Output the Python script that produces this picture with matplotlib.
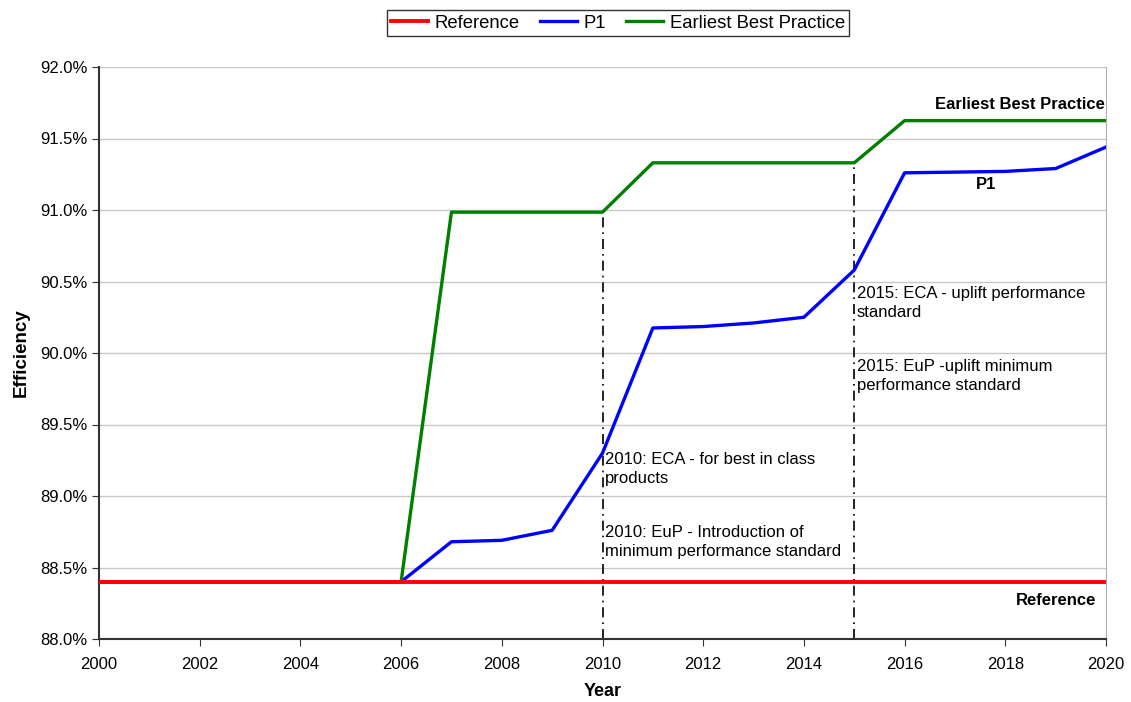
import numpy as np
import matplotlib
matplotlib.use("Agg")
import matplotlib.pyplot as plt
from matplotlib.ticker import FuncFormatter, MultipleLocator

plt.rcParams['font.family'] = ['Liberation Sans', 'DejaVu Sans']

years = np.arange(2000, 2021)
reference = [88.40] * 21
p1 = [88.40] * 7 + [88.68, 88.69, 88.76, 89.30, 90.175, 90.185, 90.21, 90.25,
                    90.58, 91.26, 91.265, 91.27, 91.29, 91.44]
best = [88.40] * 7 + [90.985, 90.985, 90.985, 90.985, 91.33, 91.33, 91.33, 91.33,
                      91.33, 91.625, 91.625, 91.625, 91.625, 91.625]

events = [2010, 2015]
notes = [(2010, 89.31, "2010: ECA - for best in class\nproducts"),
         (2010, 88.80, "2010: EuP - Introduction of\nminimum performance standard"),
         (2015, 90.47, "2015: ECA - uplift performance\nstandard"),
         (2015, 89.96, "2015: EuP -uplift minimum\nperformance standard")]

fig = plt.figure(figsize=(11.31, 7.02), dpi=100)
ax = fig.add_axes([99 / 1131, 1 - 639 / 702, (1106 - 99) / 1131, (639 - 67) / 702])

ax.plot(years, p1, color='#0000ff', lw=2.4, label='P1', zorder=3)
ax.plot(years, best, color='#008000', lw=2.4, label='Earliest Best Practice', zorder=3)
ax.plot(years, reference, color='#ff0000', lw=2.8, label='Reference', zorder=4)

# dash-dot event markers from the best-practice line down to the axis
for yr in events:
    top = best[list(years).index(yr)]
    ax.vlines(yr, 88.0, top, colors='black', linestyles=(0, (6, 3, 1, 3)), lw=1.2, zorder=2)

for x, y, txt in notes:
    ax.text(x + 0.05, y, txt, fontsize=12, va='top', ha='left', linespacing=1.35)

ax.text(2019.98, 91.74, "Earliest Best Practice", fontsize=12, fontweight='bold',
        ha='right', va='center')
ax.text(2017.62, 91.18, "P1", fontsize=12, fontweight='bold', ha='center', va='center')
ax.text(2019.8, 88.27, "Reference", fontsize=12, fontweight='bold', ha='right', va='center')

ax.set_xlim(2000, 2020)
ax.set_ylim(88.0, 92.0)
ax.xaxis.set_major_locator(MultipleLocator(2))
ax.yaxis.set_major_locator(MultipleLocator(0.5))
ax.yaxis.set_major_formatter(FuncFormatter(lambda v, p: f"{v:.1f}%"))
ax.grid(axis='y', color='#c8c8c8', lw=1)
ax.set_axisbelow(True)
ax.tick_params(labelsize=12, direction='out', length=5, color='#333333')
ax.tick_params(axis='x', pad=8)

for s in ['left', 'bottom']:
    ax.spines[s].set_color('#333333')
    ax.spines[s].set_linewidth(1.5)
ax.spines['top'].set_visible(False)
ax.spines['right'].set_color('#b0b0b0')

ax.set_xlabel("Year", fontsize=13, fontweight='bold', labelpad=8)
ax.set_ylabel("Efficiency", fontsize=13.5, fontweight='bold', labelpad=7)

h, l = ax.get_legend_handles_labels()
order = [2, 0, 1]
leg = fig.legend([h[i] for i in order], [l[i] for i in order], loc='center',
                 bbox_to_anchor=(618 / 1131, 1 - 23 / 702), ncol=3,
                 fontsize=13.3, frameon=True, fancybox=False, handlelength=2.0,
                 handletextpad=0.35, columnspacing=1.1, borderpad=0.25, borderaxespad=0)
leg.get_frame().set_edgecolor('black')
leg.get_frame().set_linewidth(1.0)

fig.savefig("out.png", dpi=100)
